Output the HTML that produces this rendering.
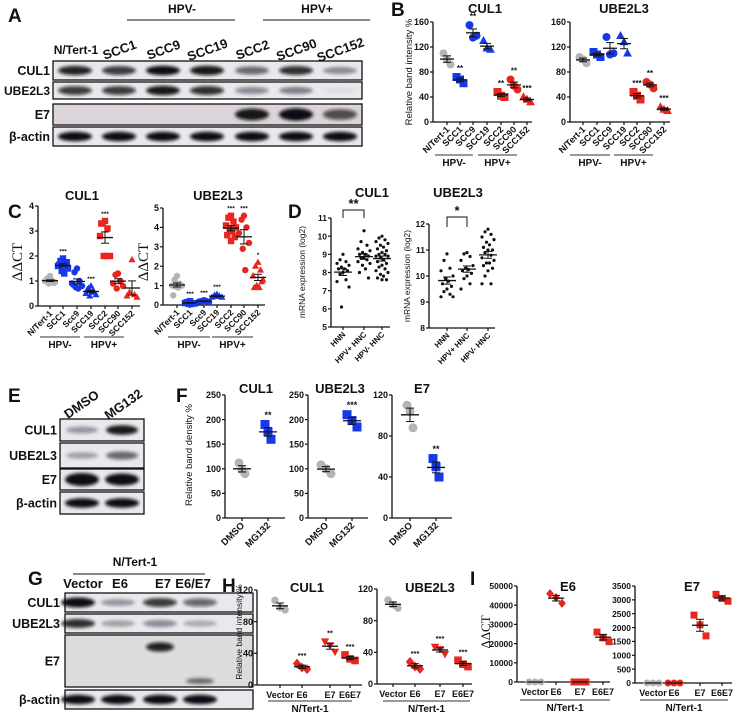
<!DOCTYPE html>
<html><head><meta charset="utf-8">
<style>
html,body{margin:0;padding:0;background:#fff;}
svg{display:block;font-family:"Liberation Sans",Arial,sans-serif;}
text{font-weight:bold;fill:#111;}
</style></head>
<body>
<svg id="fig" width="740" height="713" viewBox="0 0 740 713">
<defs>
<filter id="blur" x="-30%" y="-100%" width="160%" height="300%"><feGaussianBlur stdDeviation="1.6"/></filter>
</defs>
</svg>
<script>
// ---------- DATA ----------
const bCats=['N/Tert-1','SCC1','SCC9','SCC19','SCC2','SCC90','SCC152'];
const bCul1=[[110,100,92],[72,68,62],[155,135,138],[130,118,116],[48,42,40],[68,58,52],[40,36,32]];
const bCul1Stars=['','**','**','','**','**','***'];
const bUbe=[[104,100,94],[112,108,104],[136,108,110],[138,128,110],[48,42,36],[64,60,54],[24,20,18]];
const bUbeStars=['','','','','***','**','***'];
const bTicks=[0,40,80,120,160];

const cCats=['N/Tert-1','SCC1','Scc9','SCC19','SCC2','SCC90','SCC152'];
const cCul1=[[1.2,1.1,1.0,1.0,0.95,0.9,1.05,1.0,0.92],[1.9,1.8,1.7,1.6,1.5,1.4,1.3,1.65,1.75],[1.5,1.35,1.0,0.9,0.8,0.75,0.7,0.85],[0.8,0.7,0.6,0.5,0.45,0.4,0.55,0.65],[3.4,3.3,3.1,2.8,2.0,2.0,2.0,3.3],[1.3,1.25,1.0,0.9,0.8,0.7],[1.85,0.55,0.45,0.4,0.35]];
const cCul1Stars=['','***','','***','***','',''];
const cCul1Ticks=[0,1,2,3,4];
const cUbe=[[1.5,1.3,1.1,1.0,1.0,0.95,0.9,0.5],[0.2,0.15,0.1,0.1,0.08,0.05,0.05,0.12],[0.25,0.2,0.2,0.18,0.15,0.2,0.22],[0.55,0.5,0.45,0.4,0.4,0.45],[4.6,4.5,4.3,4.1,4.0,3.9,3.8,3.6,3.5,3.3],[4.6,4.4,4.0,3.7,3.2,2.9,1.8],[2.2,2.0,1.8,1.5,1.3,1.0,0.9,0.9,1.2]];
const cUbeStars=['','***','***','***','***','***','*'];
const cUbeTicks=[0,1,2,3,4,5];

const dCats=['HNN','HPV+ HNC','HPV- HNC'];
const dCul1=[[9.0,8.7,8.6,8.5,8.4,8.3,8.2,8.2,8.1,8.0,7.9,7.6,7.5,7.2,6.1],[10.3,9.7,9.5,9.3,9.2,9.1,9.0,9.0,8.9,8.8,8.8,8.7,8.6,8.5,8.4,8.2,8.0,7.7],[10.0,9.9,9.8,9.7,9.6,9.5,9.4,9.3,9.2,9.1,9.0,9.0,8.9,8.9,8.8,8.7,8.6,8.5,8.4,8.3,8.2,8.1,8.0,7.9,7.8,7.7,7.6,7.6]];
const dCul1Ticks=[5,6,7,8,9,10,11];
const dUbe=[[10.85,10.6,10.3,10.2,10.0,9.9,9.8,9.7,9.6,9.5,9.4,9.3,9.2,9.2],[10.9,10.85,10.75,10.6,10.4,10.3,10.25,10.2,10.1,10.0,9.9,9.7,9.5],[11.8,11.7,11.6,11.5,11.4,11.3,11.2,11.1,11.0,11.0,10.9,10.8,10.7,10.6,10.5,10.5,10.4,10.3,10.2,10.0,9.7,9.7]];
const dUbeTicks=[8,9,10,11,12];

const fCats=['DMSO','MG132'];
const fCul1=[[112,98,90],[190,175,160]];
const fCul1Stars=['','**'];
const fUbe=[[108,100,90],[210,198,185]];
const fUbeStars=['','***'];
const fE7=[[110,104,88],[58,50,40]];
const fE7Stars=['','**'];
const fTicks=[0,50,100,150,200,250];
const fE7Ticks=[0,40,80,120];

const hCats=['Vector','E6','E7','E6E7'];
const hCul1=[[107,98,95],[27,22,20],[55,50,42],[38,33,31]];
const hCul1Stars=['','***','**','***'];
const hUbe=[[106,100,96],[28,22,19],[47,44,38],[30,25,22]];
const hUbeStars=['','***','***','***'];
const hTicks=[0,40,80,120];

const iE6=[[0,0,0],[46000,44000,41000],[0,0,0],[26000,23000,21000]];
const iE6Ticks=[0,10000,20000,30000,40000,50000];
const iE7=[[0,0,0],[0,0,0],[2450,2100,1700],[3200,3050,2950]];
const iE7Ticks=[0,500,1000,1500,2000,2500,3000,3500];

// ---------- helpers ----------
const NS='http://www.w3.org/2000/svg';
const svg=document.getElementById('fig');
function el(tag,attrs,parent){const e=document.createElementNS(NS,tag);for(const k in attrs)e.setAttribute(k,attrs[k]);(parent||svg).appendChild(e);return e;}
function txt(s,x,y,size,parent,anchor,extra){const t=el('text',Object.assign({x:x,y:y,'font-size':size,'text-anchor':anchor||'middle'},extra||{}),parent);t.textContent=s;return t;}
const GREY='#b4b4b4',BLUE='#1638e6',RED='#e8261e',BLK='#111';

function marker(g,shape,x,y,r,color){
  let m;
  if(shape==='c')m=el('circle',{cx:x,cy:y,r:r,fill:color},g);
  else if(shape==='s')m=el('rect',{x:x-r,y:y-r,width:2*r,height:2*r,fill:color},g);
  else if(shape==='t')m=el('polygon',{points:`${x},${y-r*1.2} ${x-r*1.1},${y+r*0.8} ${x+r*1.1},${y+r*0.8}`,fill:color},g);
  else if(shape==='v')m=el('polygon',{points:`${x},${y+r*1.2} ${x-r*1.1},${y-r*0.8} ${x+r*1.1},${y-r*0.8}`,fill:color},g);
  else m=el('polygon',{points:`${x},${y-r*1.3} ${x-r*1.1},${y} ${x},${y+r*1.3} ${x+r*1.1},${y}`,fill:color},g);
  
  
}
const JIT=[0,-1,1,-2,2,-0.5,0.5,-1.5,1.5];

function plot(cfg){
  const g=el('g',{});
  
  
  const vmin=cfg.ticks[0],vmax=cfg.ticks[cfg.ticks.length-1];
  const ys=v=>cfg.yBot-(v-vmin)/(vmax-vmin)*(cfg.yBot-cfg.yTop);
  const ya=el('line',{x1:cfg.ax,y1:cfg.yTop,x2:cfg.ax,y2:cfg.yBot,stroke:BLK,'stroke-width':1.3},g);
  
  
  const xa=el('line',{x1:cfg.ax,y1:cfg.yBot,x2:cfg.xEnd,y2:cfg.yBot,stroke:BLK,'stroke-width':1.3},g);
  
  
  cfg.ticks.forEach(v=>{
    const y=ys(v);
    el('line',{x1:cfg.ax-3,y1:y,x2:cfg.ax,y2:y,stroke:BLK,'stroke-width':1.2},g);
    const t=txt(String(v),cfg.ax-4,y+3.2,cfg.tickSize||9,g,'end');
    
    
  });
  cfg.cats.forEach((c,i)=>{
    const cx=cfg.cx[i];
    el('line',{x1:cx,y1:cfg.yBot,x2:cx,y2:cfg.yBot+3,stroke:BLK,'stroke-width':1.2},g);
    let t;
    if(cfg.rot){
      t=txt(c,cx+3,cfg.yBot+8,cfg.catSize||9,g,'end',{transform:`rotate(-45 ${cx+3} ${cfg.yBot+8})`});
    } else {
      t=txt(c,cx,cfg.yBot+13,cfg.catSize||9,g,'middle');
    }
    
    
    const vals=cfg.data[i];
    const n=vals.length;
    const st=cfg.styles[i];
    const spread=cfg.spread||4;
    vals.forEach((v,j)=>{
      let off;
      if(n<=3) off=(j-(n-1)/2)*spread;
      else off=JIT[j%JIT.length]*spread;
      marker(g,st[0],cx+off,ys(v),cfg.r,st[1]);
    });
    const mean=vals.reduce((a,b)=>a+b,0)/n;
    const sd=Math.sqrt(vals.reduce((a,b)=>a+(b-mean)*(b-mean),0)/(n-1||1));
    const sem=sd/Math.sqrt(n);
    const mw=cfg.meanW||8,cw=cfg.capW||4;
    const ml=el('line',{x1:cx-mw,y1:ys(mean),x2:cx+mw,y2:ys(mean),stroke:BLK,'stroke-width':1.3},g);
    
    
    el('line',{x1:cx,y1:ys(mean+sem),x2:cx,y2:ys(mean-sem),stroke:BLK,'stroke-width':1},g);
    el('line',{x1:cx-cw,y1:ys(mean+sem),x2:cx+cw,y2:ys(mean+sem),stroke:BLK,'stroke-width':1},g);
    el('line',{x1:cx-cw,y1:ys(mean-sem),x2:cx+cw,y2:ys(mean-sem),stroke:BLK,'stroke-width':1},g);
    if(cfg.stars&&cfg.stars[i]){
      const s=txt(cfg.stars[i],cx,ys(Math.max(...vals))-cfg.r-2,cfg.starSize||8,g,'middle');
      
      
    }
  });
  if(cfg.title){
    const t=txt(cfg.title,cfg.titleX,cfg.titleY,13,g,'middle');
    
    
  }
  if(cfg.ylabel){
    const t=txt(cfg.ylabel,cfg.ylx,cfg.yly,cfg.ylSize||9.5,g,'middle',{transform:`rotate(-90 ${cfg.ylx} ${cfg.yly})`,style:cfg.ylSerif?'font-family:"Liberation Serif",serif;font-weight:normal':'font-weight:normal'});
    
    
  }
  (cfg.groups||[]).forEach(gr=>{
    el('line',{x1:gr[1],y1:cfg.gy,x2:gr[2],y2:cfg.gy,stroke:'#333','stroke-width':1},g);
    const t=txt(gr[0],(gr[1]+gr[2])/2,cfg.gy+11,10,g,'middle');
    
    
  });
  if(cfg.bracket){
    const b=cfg.bracket;
    const p=el('polyline',{points:`${cfg.cx[0]},${b[1]} ${cfg.cx[0]},${b[0]} ${cfg.cx[1]},${b[0]} ${cfg.cx[1]},${b[1]}`,fill:'none',stroke:BLK,'stroke-width':1},g);
    
    
    const s=txt(b[2],(cfg.cx[0]+cfg.cx[1])/2,b[0]-2,13,g,'middle');
    
    
  }
  return g;
}

function blot(name,x,y,w,rows,lanes,labelX){
  const g=el('g',{});
  
  
  rows.forEach(r=>{
    const box=el('rect',{x:x,y:r.y,width:w,height:r.h,fill:r.bg||'#e9e8ec',stroke:BLK,'stroke-width':1.3},g);
    
    
    r.bands.forEach((b,i)=>{
      if(b<=0)return;
      const by=r.y+(r.by!==undefined?r.by:r.h/2);
      const bd=el('ellipse',{cx:lanes[i],cy:by,rx:(r.rx||17),ry:(r.ry||4)*(0.7+0.5*b),fill:'#0b0b12','fill-opacity':Math.min(1,b),filter:'url(#blur)'},g);
      
      
    });
    const t=txt(r.label,labelX,r.y+r.h/2+4.5,r.fs||12.5,g,'end');
    
    
  });
  return g;
}
function letter(s,x,y){const t=txt(s,x,y,19,svg,'start');}

// ---------- Panel A ----------
letter('A',8,22);
{
  const lanes=[75,119,163,207,252,296,340];
  blot('blot-a',53,0,309,[
    {label:'CUL1',y:61,h:19,bands:[0.9,0.8,1,0.95,0.6,0.85,0.4]},
    {label:'UBE2L3',y:82,h:17,bands:[0.8,0.8,0.95,0.85,0.4,0.45,0.05],fs:12},
    {label:'E7',y:104,h:21,bg:'#ddd3da',bands:[0,0,0,0,0.95,1.1,0.7],ry:5},
    {label:'β-actin',y:127,h:19,bands:[1,1,1,1,1,1,1]}
  ],lanes,50);
  const labels=['SCC1','SCC9','SCC19','SCC2','SCC90','SCC152'];
  const t0=txt('N/Tert-1',76,54,12,svg,'middle');
  
  
  labels.forEach((s,i)=>{
    const x=lanes[i+1]+2,y=54;
    const t=txt(s,x,y,13,svg,'middle',{transform:`rotate(-20 ${x} ${y})`});
    
    
  });
  el('line',{x1:127,y1:20,x2:235,y2:20,stroke:BLK,'stroke-width':1});
  el('line',{x1:263,y1:20,x2:370,y2:20,stroke:BLK,'stroke-width':1});
  let t=txt('HPV-',182,13,12,svg,'middle');
  t=txt('HPV+',317,13,12,svg,'middle');
}

// ---------- Panel B ----------
letter('B',391,16);
const bStyles=[['c',GREY],['s',BLUE],['c',BLUE],['t',BLUE],['s',RED],['c',RED],['t',RED]];
plot({name:'chart-b-cul1',ax:433,xEnd:532,yTop:22,yBot:122,ticks:bTicks,cats:bCats,cx:[447,460,473,487,501,514,527],data:bCul1,stars:bCul1Stars,styles:bStyles,r:4,spread:3.5,rot:true,title:'CUL1',titleX:485,titleY:13,ylabel:'Relative band intensity %',ylx:412,yly:72,groups:[['HPV-',435,473],['HPV+',478,517]],gy:155,meanW:7});
plot({name:'chart-b-ube2l3',ax:570,xEnd:670,yTop:22,yBot:122,ticks:bTicks,cats:bCats,cx:[583,597,610,624,637,650,664],data:bUbe,stars:bUbeStars,styles:bStyles,r:4,spread:3.5,rot:true,title:'UBE2L3',titleX:624,titleY:13,groups:[['HPV-',570,610],['HPV+',614,653]],gy:155,meanW:7});

// ---------- Panel C ----------
letter('C',8,218);
const cStyles=bStyles;
plot({name:'chart-c-cul1',ax:38,xEnd:140,yTop:206,yBot:306,ticks:cCul1Ticks,cats:cCats,cx:[50,63,77,91,105,118,132],data:cCul1,stars:cCul1Stars,styles:cStyles,r:3.2,spread:2.5,rot:true,title:'CUL1',titleX:82,titleY:200,ylabel:'ΔΔCT',ylx:22,yly:262,ylSize:15,ylSerif:true,groups:[['HPV-',40,80],['HPV+',84,124]],gy:337,starSize:6.5,meanW:8,catSize:8.5});
plot({name:'chart-c-ube2l3',ax:163,xEnd:265,yTop:208,yBot:305,ticks:cUbeTicks,cats:cCats,cx:[177,190,204,217,231,244,258],data:cUbe,stars:cUbeStars,styles:cStyles,r:3.2,spread:2.5,rot:true,title:'UBE2L3',titleX:218,titleY:200,ylabel:'ΔΔCT',ylx:148,yly:262,ylSize:15,ylSerif:true,groups:[['HPV-',168,210],['HPV+',212,253]],gy:337,starSize:6.5,meanW:8,catSize:8.5});

// ---------- Panel D ----------
letter('D',288,218);
const dStyles=[['c',BLK],['c',BLK],['c',BLK]];
plot({name:'chart-d-cul1',ax:331,xEnd:390,yTop:218,yBot:327,ticks:dCul1Ticks,cats:dCats,cx:[343,364,382],data:dCul1,styles:dStyles,r:1.6,spread:3,rot:true,title:'CUL1',titleX:372,titleY:197,ylabel:'mRNA expression (log2)',ylx:305,yly:272,ylSize:8.5,meanW:9,capW:4,catSize:8,tickSize:8.5,bracket:[210,218,'**']});
plot({name:'chart-d-ube2l3',ax:429,xEnd:495,yTop:224,yBot:328,ticks:dUbeTicks,cats:dCats,cx:[447,467,488],data:dUbe,styles:dStyles,r:1.6,spread:3,rot:true,title:'UBE2L3',titleX:458,titleY:197,ylabel:'mRNA expression (log2)',ylx:410,yly:276,ylSize:8.5,meanW:9,capW:4,catSize:8,tickSize:8.5,bracket:[217,227,'*']});

// ---------- Panel E ----------
letter('E',8,402);
{
  const lanes=[82,122];
  blot('blot-e',60,0,84,[
    {label:'CUL1',y:419,h:22,bands:[0.35,0.95],rx:16},
    {label:'UBE2L3',y:443,h:25,bands:[0.3,0.6],rx:16},
    {label:'E7',y:469,h:21,bands:[1.2,1.0],rx:17,ry:5},
    {label:'β-actin',y:492,h:22,bands:[1,1],rx:17}
  ],lanes,57);
  [['DMSO',84],['MG132',126]].forEach(a=>{
    const t=txt(a[0],a[1],408,13,svg,'middle',{transform:`rotate(-35 ${a[1]} 408)`});
    
    
  });
}

// ---------- Panel F ----------
letter('F',176,402);
const fStyles=[['c',GREY],['s',BLUE]];
plot({name:'chart-f-cul1',ax:225,xEnd:285,yTop:395,yBot:518,ticks:fTicks,cats:fCats,cx:[242,268],data:fCul1,stars:fCul1Stars,styles:fStyles,r:4.5,spread:3,rot:true,title:'CUL1',titleX:256,titleY:393,ylabel:'Relative band density %',ylx:192,yly:455,meanW:9,catSize:9.5,starSize:9});
plot({name:'chart-f-ube2l3',ax:308,xEnd:368,yTop:395,yBot:518,ticks:fTicks,cats:fCats,cx:[326,352],data:fUbe,stars:fUbeStars,styles:fStyles,r:4.5,spread:5,rot:true,title:'UBE2L3',titleX:340,titleY:393,meanW:9,catSize:9.5,starSize:9});
plot({name:'chart-f-e7',ax:392,xEnd:452,yTop:395,yBot:518,ticks:fE7Ticks,cats:fCats,cx:[410,436],data:fE7,stars:fE7Stars,styles:fStyles,r:4.5,spread:3,rot:true,title:'E7',titleX:422,titleY:393,meanW:9,catSize:9.5,starSize:9});

// ---------- Panel G ----------
letter('G',28,585);
{
  const lanes=[78,118,160,200];
  blot('blot-g',65,0,188,[
    {label:'CUL1',y:593,h:19,bands:[1.1,0.35,0.8,0.6],rx:17},
    {label:'UBE2L3',y:614,h:19,bands:[0.85,0.3,0.4,0.25],rx:17},
    {label:'E7',y:635,h:52,bg:'#dcdcdf',by:12,bands:[0,0,0.9,0],rx:14},
    {label:'β-actin',y:690,h:19,bands:[1,1,1,1],rx:17}
  ],lanes,60);
  [['Vector',83],['E6',120],['E7',163],['E6/E7',193]].forEach(a=>{
    const t=txt(a[0],a[1],588,13,svg,'middle');
    
    
  });
  el('line',{x1:73,y1:574,x2:205,y2:574,stroke:BLK,'stroke-width':1});
  const t=txt('N/Tert-1',135,566,12,svg,'middle');
  
  
  el('ellipse',{cx:200,cy:681,rx:14,ry:3,fill:'#222','fill-opacity':0.6,filter:'url(#blur)'});
}

// ---------- Panel H ----------
letter('H',222,592);
const hStyles=[['c',GREY],['d',RED],['v',RED],['s',RED]];
plot({name:'chart-h-cul1',ax:257,xEnd:362,yTop:590,yBot:685,ticks:hTicks,cats:hCats,cx:[280,302,330,350],data:hCul1,stars:hCul1Stars,styles:hStyles,r:3.8,spread:5,title:'CUL1',titleX:307,titleY:592,ylabel:'Relative band intensity %',ylx:242,yly:632,ylSize:8.5,groups:[['N/Tert-1',268,352]],gy:701,meanW:8,catSize:9,starSize:7.5});
plot({name:'chart-h-ube2l3',ax:377,xEnd:472,yTop:589,yBot:684,ticks:hTicks,cats:hCats,cx:[393,415,440,463],data:hUbe,stars:hUbeStars,styles:hStyles,r:3.8,spread:5,title:'UBE2L3',titleX:430,titleY:592,groups:[['N/Tert-1',383,470]],gy:701,meanW:8,catSize:9,starSize:7.5});

// ---------- Panel I ----------
letter('I',470,585);
const iStyles=[['c',GREY],['d',RED],['s',RED],['s',RED]];
const iStyles2=[['c',GREY],['c',RED],['s',RED],['s',RED]];
plot({name:'chart-i-e6',ax:517,xEnd:610,yTop:586,yBot:682,ticks:iE6Ticks,cats:hCats,cx:[535,556,580,603],data:iE6,styles:iStyles,r:3.5,spread:6,title:'E6',titleX:568,titleY:591,ylabel:'ΔΔCT',ylx:490,yly:632,ylSize:13,ylSerif:true,groups:[['N/Tert-1',520,610]],gy:700,meanW:8,catSize:9,tickSize:8.5});
plot({name:'chart-i-e7',ax:635,xEnd:732,yTop:586,yBot:683,ticks:iE7Ticks,cats:hCats,cx:[653,674,700,722],data:iE7,styles:iStyles2,r:3.5,spread:6,title:'E7',titleX:692,titleY:591,groups:[['N/Tert-1',640,728]],gy:700,meanW:8,catSize:9,tickSize:8.5});
</script>
</body></html>
